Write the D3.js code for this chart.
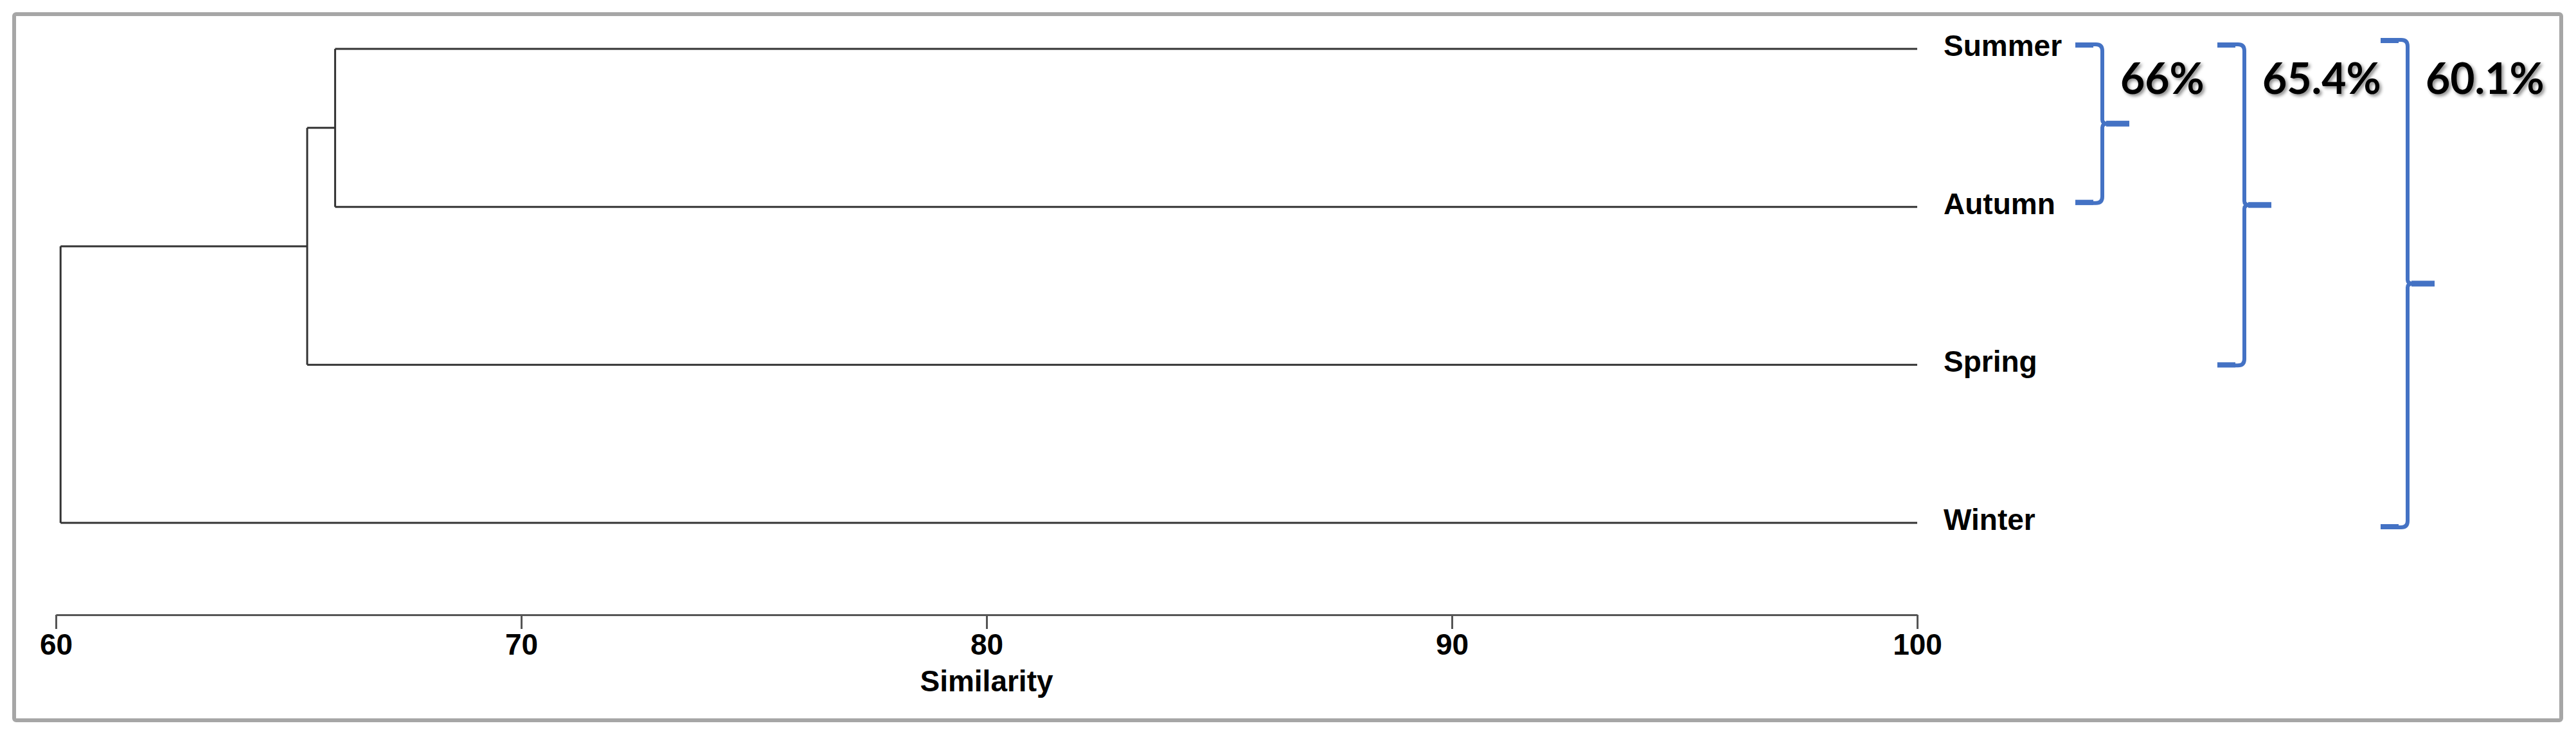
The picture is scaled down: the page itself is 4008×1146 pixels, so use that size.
<!DOCTYPE html>
<html>
<head>
<meta charset="utf-8">
<script src="https://cdn.jsdelivr.net/npm/d3@7"></script>
<style>
  html, body { margin: 0; padding: 0; background: #ffffff; }
  svg { display: block; }
</style>
</head>
<body>
<svg id="chart" width="4008" height="1146"></svg>
<script>
// ---------------- data ----------------
const leaves = ["Summer", "Autumn", "Spring", "Winter"];
// merges: [left child, right child, similarity (%)]
const merges = [
  ["Summer", "Autumn", 66.0],
  ["m0", "Spring", 65.4],
  ["m1", "Winter", 60.1]
];
const tickValues = [60, 70, 80, 90, 100];
const axisTitle = "Similarity";
const clusterLabels = ["66%", "65.4%", "60.1%"];
const clusterFirst = ["Summer", "Summer", "Summer"];
const clusterLast = ["Autumn", "Spring", "Winter"];

// ---------------- layout ----------------
const W = 4008, H = 1146;
const svg = d3.select("#chart");
const x = d3.scaleLinear().domain([60, 100]).range([87, 2983]);
const y = d3.scalePoint().domain(leaves).range([76, 813]);
const axisY = 956;
const braceX = [3271, 3492, 3746];   // vertical stem of each brace
const braceTop = [-7, -7, -14];
const braceBot = [-6, 1, 7];

// frame
svg.append("rect")
  .attr("x", 22).attr("y", 22).attr("width", 3963).attr("height", 1098)
  .attr("rx", 3)
  .attr("fill", "#ffffff")
  .attr("stroke", "#a6a6a6").attr("stroke-width", 6);

// build hierarchy-like node table
const nodes = {};
leaves.forEach(l => nodes[l] = { name: l, sim: 100, y: y(l) });
merges.forEach((m, i) => {
  const a = nodes[m[0]], b = nodes[m[1]];
  nodes["m" + i] = { name: "m" + i, sim: m[2], y: (a.y + b.y) / 2, children: [a, b] };
});

const g = svg.append("g");
const lineColor = "#333333";
Object.values(nodes).forEach(n => {
  if (!n.children) return;
  const [a, b] = n.children;
  // vertical connector
  g.append("line")
    .attr("x1", x(n.sim)).attr("x2", x(n.sim))
    .attr("y1", a.y).attr("y2", b.y)
    .attr("stroke", lineColor).attr("stroke-width", 3);
  // horizontal to each child
  [a, b].forEach(c => {
    g.append("line")
      .attr("x1", x(n.sim)).attr("x2", x(c.sim))
      .attr("y1", c.y).attr("y2", c.y)
      .attr("stroke", lineColor).attr("stroke-width", 3);
  });
});

// leaf labels
svg.append("g").selectAll("text").data(leaves).join("text")
  .attr("x", 3024).attr("y", d => y(d) + 11)
  .attr("font-family", "'Liberation Sans', Arial, sans-serif")
  .attr("font-weight", "bold").attr("font-size", 46)
  .attr("fill", "#000")
  .text(d => d);

// axis
const axis = d3.axisBottom(x).tickValues(tickValues).tickSize(22).tickSizeOuter(0).tickPadding(7)
  .tickFormat(d3.format("d"));
const ag = svg.append("g").attr("transform", `translate(0,${axisY})`).call(axis);
ag.select(".domain").attr("stroke", "#555").attr("stroke-width", 3);
ag.selectAll(".tick line").attr("stroke", "#555").attr("stroke-width", 3);
ag.selectAll(".tick text")
  .attr("font-family", "'Liberation Sans', Arial, sans-serif")
  .attr("font-weight", "bold").attr("font-size", 46).attr("fill", "#000");

svg.append("text")
  .attr("x", (x.range()[0] + x.range()[1]) / 2).attr("y", 1075)
  .attr("text-anchor", "middle")
  .attr("font-family", "'Liberation Sans', Arial, sans-serif")
  .attr("font-weight", "bold").attr("font-size", 46).attr("fill", "#000")
  .text(axisTitle);

// shadow filter
const defs = svg.append("defs");
const f = defs.append("filter").attr("id", "shadow").attr("x", "-10%").attr("y", "-10%").attr("width", "130%").attr("height", "140%");
f.append("feDropShadow").attr("dx", 3).attr("dy", 3).attr("stdDeviation", 2.5)
  .attr("flood-color", "#000").attr("flood-opacity", 0.45);

// braces
const blue = "#4472c4";
clusterLabels.forEach((lab, i) => {
  const xv = braceX[i];
  const top = y(clusterFirst[i]) + braceTop[i];
  const bot = y(clusterLast[i]) + braceBot[i];
  const mid = (top + bot) / 2;
  const hook = 42, r = 10, tip = 42;
  const p = d3.path();
  p.moveTo(xv - hook, top);
  p.lineTo(xv - r, top);
  p.quadraticCurveTo(xv, top, xv, top + r);
  p.lineTo(xv, mid - 6);
  p.quadraticCurveTo(xv, mid, xv + 8, mid);
  p.lineTo(xv + tip, mid);
  p.moveTo(xv + 8, mid);
  p.quadraticCurveTo(xv, mid, xv, mid + 6);
  p.lineTo(xv, bot - r);
  p.quadraticCurveTo(xv, bot, xv - r, bot);
  p.lineTo(xv - hook, bot);
  svg.append("path").attr("d", p.toString())
    .attr("fill", "none").attr("stroke", blue).attr("stroke-width", 6)
    .attr("stroke-linejoin", "round");
  // thicker end caps
  [top, bot].forEach(yy => {
    svg.append("line").attr("x1", xv - hook).attr("x2", xv - r - 4)
      .attr("y1", yy + (yy === top ? 1 : -1)).attr("y2", yy + (yy === top ? 1 : -1))
      .attr("stroke", blue).attr("stroke-width", 8);
  });
  svg.append("line").attr("x1", xv + 6).attr("x2", xv + tip)
    .attr("y1", mid).attr("y2", mid)
    .attr("stroke", blue).attr("stroke-width", 9);

  svg.append("text")
    .attr("x", xv + 28).attr("y", 146)
    .attr("font-family", "Lato, 'Open Sans', sans-serif")
    .attr("font-weight", "bold").attr("font-size", 66)
    .attr("fill", "#000")
    .attr("filter", "url(#shadow)")
    .text(lab);
});
</script>
</body>
</html>
